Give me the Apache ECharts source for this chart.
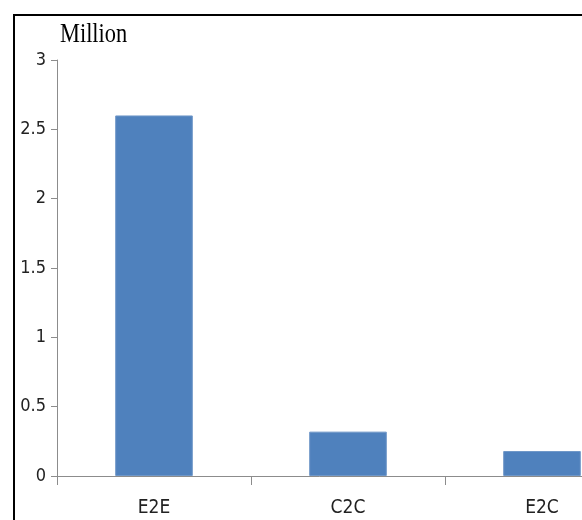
<!DOCTYPE html>
<html>
<head>
<meta charset="utf-8">
<script src="https://cdn.jsdelivr.net/npm/echarts@6/dist/echarts.min.js"></script>
<style>html,body{margin:0;padding:0;background:#fff;}#c{width:582px;height:520px;}</style>
</head>
<body>
<div id="c"></div>
<script>
const categories = ['E2E', 'C2C', 'E2C'];
const values = [2.6, 0.32, 0.18];
const unitLabel = 'Million';
const yMin = 0, yMax = 3, yStep = 0.5;

const chart = echarts.init(document.getElementById('c'), null, {renderer: 'canvas'});
const labelFont = "'DejaVu Sans Condensed', 'Liberation Sans Narrow', 'Liberation Sans', sans-serif";
chart.setOption({
  animation: false,
  backgroundColor: '#fff',
  grid: {left: 57, top: 60, right: -57, bottom: 44, containLabel: false, outerBoundsMode: 'none'},
  graphic: [
    {type: 'rect', shape: {x: 14, y: 15, width: 700, height: 700}, style: {fill: 'none', stroke: '#000', lineWidth: 2}, silent: true},
    {type: 'text', x: 60, y: 21, scaleX: 0.8, style: {text: unitLabel, font: "28px 'Liberation Serif', 'Times New Roman', serif", fill: '#000', textVerticalAlign: 'top'}}
  ],
  xAxis: {
    type: 'category',
    data: categories,
    boundaryGap: true,
    axisLine: {lineStyle: {color: '#8c8c8c', width: 1}},
    axisTick: {show: true, length: 9, alignWithLabel: false, lineStyle: {color: '#8c8c8c'}},
    axisLabel: {margin: 23, fontSize: 19, color: '#222', fontFamily: labelFont}
  },
  yAxis: {
    type: 'value',
    min: yMin, max: yMax, interval: yStep,
    axisLine: {show: true, lineStyle: {color: '#8c8c8c', width: 1}},
    axisTick: {show: true, length: 6, lineStyle: {color: '#8c8c8c'}},
    splitLine: {show: false},
    axisLabel: {margin: 11, fontSize: 18, color: '#222', fontFamily: labelFont}
  },
  series: [{
    type: 'bar',
    data: values,
    barWidth: '40%',
    itemStyle: {color: '#4f81bd', borderColor: '#6f97c8', borderWidth: 1}
  }]
});
</script>
</body>
</html>
